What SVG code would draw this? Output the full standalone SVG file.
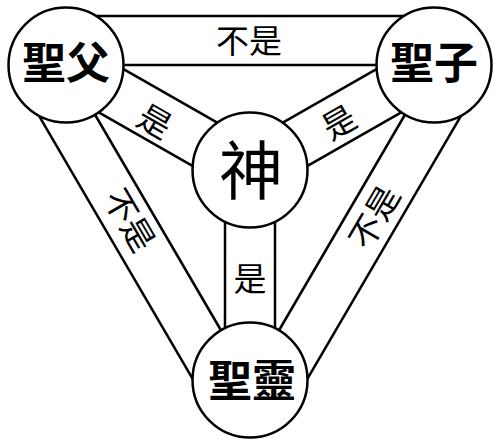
<svg xmlns="http://www.w3.org/2000/svg" width="500" height="447" viewBox="0 0 500 447">
<style>
.band{stroke:#000;stroke-width:2.5;fill:none}
.node{fill:#fff;stroke:#000;stroke-width:2.5}
.name{font-family:"Noto Sans CJK TC","Noto Sans CJK SC",sans-serif;font-weight:bold;font-size:44px;text-anchor:middle;fill:#000}
.god{font-family:"Noto Sans CJK TC","Noto Sans CJK SC",sans-serif;font-size:64px;text-anchor:middle;fill:#000}
.lbl{font-family:"Noto Sans CJK TC","Noto Sans CJK SC",sans-serif;font-size:33px;text-anchor:middle;fill:#000}
</style>
<rect width="500" height="447" fill="#fff"/>
<g id="connectors">
<line class="band" x1="66" y1="65" x2="434" y2="65"/>
<line class="band" x1="66" y1="16" x2="434" y2="16"/>
<line class="band" x1="66" y1="65" x2="250" y2="380"/>
<line class="band" x1="23.7" y1="89.7" x2="207.7" y2="404.7"/>
<line class="band" x1="434" y1="65" x2="250" y2="380"/>
<line class="band" x1="476.3" y1="89.7" x2="292.3" y2="404.7"/>
<line class="band" x1="78.4" y1="43.3" x2="262.4" y2="148.3"/>
<line class="band" x1="53.6" y1="86.7" x2="237.6" y2="191.7"/>
<line class="band" x1="421.6" y1="43.3" x2="237.6" y2="148.3"/>
<line class="band" x1="446.4" y1="86.7" x2="262.4" y2="191.7"/>
<line class="band" x1="225" y1="170" x2="225" y2="380"/>
<line class="band" x1="275" y1="170" x2="275" y2="380"/>
<text class="lbl" x="249" y="52.5">不是</text>
<text class="lbl" transform="translate(130,220) rotate(59.7)" x="0" y="12.5">不是</text>
<text class="lbl" transform="translate(374,217) rotate(-59.7)" x="0" y="12.5">不是</text>
<text class="lbl" transform="translate(155,121) rotate(29.7)" x="0" y="12.5">是</text>
<text class="lbl" transform="translate(339,122) rotate(-29.7)" x="0" y="12.5">是</text>
<text class="lbl" x="250" y="290.5">是</text>
</g>
<g id="father">
<circle class="node" cx="66" cy="65" r="57.5"/>
<text class="name" x="66" y="79">聖父</text>
</g>
<g id="son">
<circle class="node" cx="434" cy="65" r="57.5"/>
<text class="name" x="434" y="79">聖子</text>
</g>
<g id="spirit">
<circle class="node" cx="250" cy="380" r="57.5"/>
<text class="name" x="252" y="397">聖靈</text>
</g>
<g id="god">
<circle class="node" cx="250" cy="170" r="57.5"/>
<text class="god" x="251" y="194">神</text>
</g>
</svg>
